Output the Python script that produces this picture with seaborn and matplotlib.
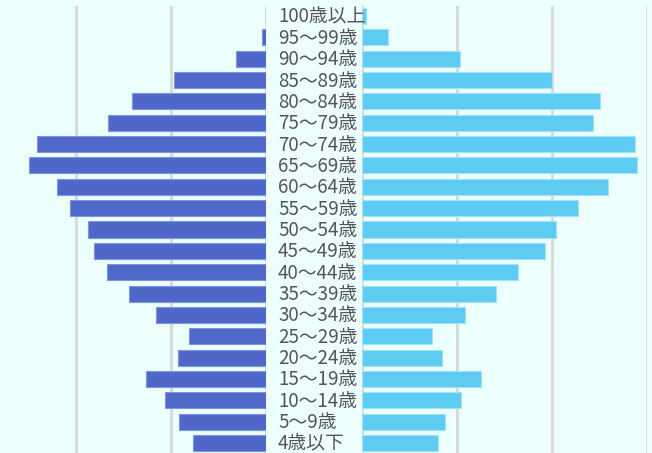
import numpy as np
import pandas as pd
import matplotlib.pyplot as plt
import seaborn as sns

# age groups, top (oldest) to bottom
ages = ['100歳以上', '95〜99歳', '90〜94歳', '85〜89歳', '80〜84歳', '75〜79歳',
        '70〜74歳', '65〜69歳', '60〜64歳', '55〜59歳', '50〜54歳', '45〜49歳',
        '40〜44歳', '35〜39歳', '30〜34歳', '25〜29歳', '20〜24歳', '15〜19歳',
        '10〜14歳', '5〜9歳', '4歳以下']
left_vals = [0.0, 0.04, 0.32, 0.97, 1.41, 1.66, 2.41, 2.49, 2.20, 2.06, 1.87,
             1.81, 1.67, 1.44, 1.16, 0.81, 0.93, 1.26, 1.06, 0.92, 0.77]
right_vals = [0.04, 0.27, 1.03, 2.00, 2.50, 2.43, 2.87, 2.89, 2.59, 2.27, 2.04,
              1.93, 1.64, 1.41, 1.08, 0.74, 0.84, 1.25, 1.04, 0.87, 0.80]

df = pd.DataFrame({'age': ages, 'left': left_vals, 'right': right_vals})

sns.set_style('white')
plt.rcParams['font.family'] = ['Noto Sans CJK JP', 'DejaVu Sans']

bg = '#ecfffc'
fig = plt.figure(figsize=(6.52, 4.53), dpi=100, facecolor=bg)
W, H = 652, 453
ax_l = fig.add_axes([0, 0, 266 / W, 447 / H])
ax_r = fig.add_axes([362 / W, 0, 285 / W, 447 / H])

sns.barplot(data=df, x='left', y='age', orient='h', ax=ax_l, color='#4f67c8',
            saturation=1, width=0.75, edgecolor='#7f95e0', linewidth=0.8, zorder=3)
sns.barplot(data=df, x='right', y='age', orient='h', ax=ax_r, color='#5ecbf2',
            saturation=1, width=0.75, edgecolor='#9fe2fa', linewidth=0.8, zorder=3)

ax_l.set_xlim(2.8, 0)
ax_r.set_xlim(0, 3.0)
for ax in (ax_l, ax_r):
    ax.set_facecolor(bg)
    ax.set_ylim(len(ages) - 0.53, -0.47)
    ax.set_xlabel('')
    ax.set_ylabel('')
    ax.set_yticks([])
    ax.set_xticks([])
    for s in ax.spines.values():
        s.set_visible(False)

for x in [0, 1, 2]:
    ax_l.axvline(x, color='#d8d8d8', lw=2, zorder=1)
for x in [0, 1, 2, 3]:
    ax_r.axvline(x, color='#d8d8d8', lw=2, zorder=1)

trans = ax_r.get_yaxis_transform()
for i, a in enumerate(ages):
    ax_r.text((278 - 362) / 285, i + 0.05, a, transform=trans, ha='left', va='center',
              fontsize=13.5, color='#555555', clip_on=False)

fig.savefig('out.png', dpi=100, facecolor=bg)
